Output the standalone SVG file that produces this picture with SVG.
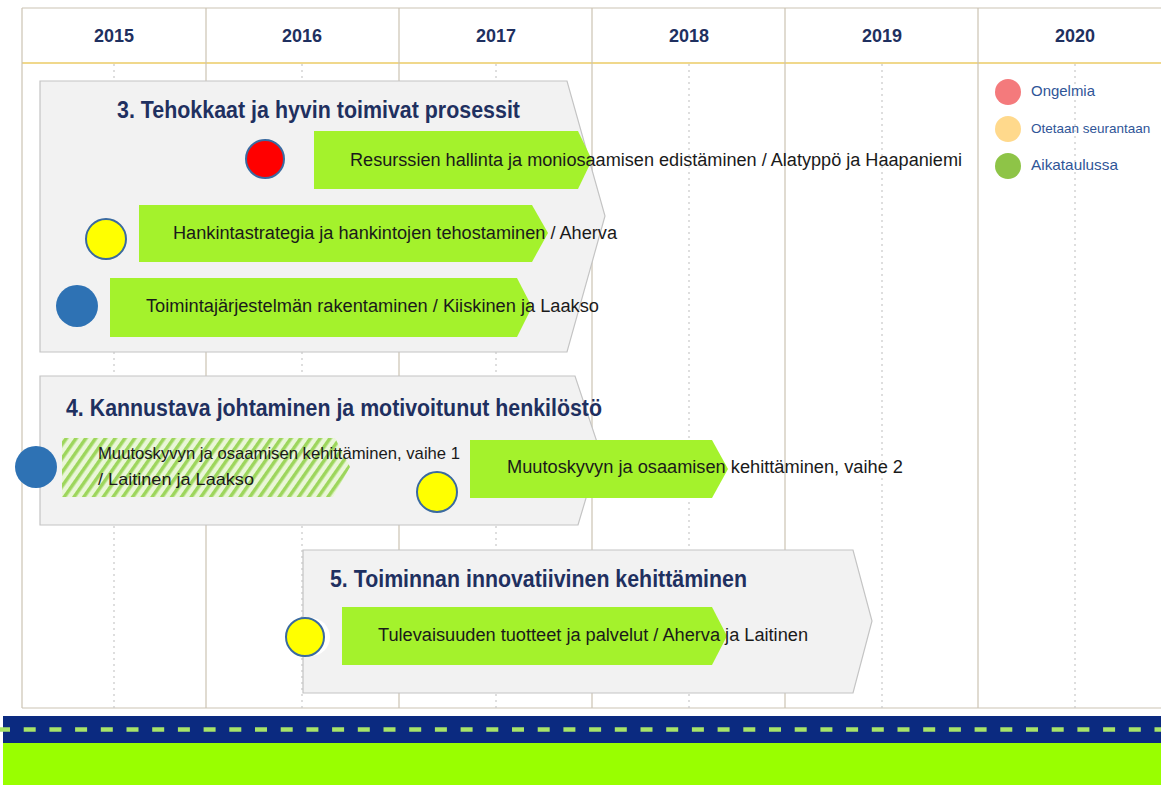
<svg xmlns="http://www.w3.org/2000/svg" width="1161" height="785" viewBox="0 0 1161 785">
<defs>
<style>
.grid{stroke:#cbc3b3;stroke-width:1.2;fill:none}
.dot{stroke:#c9c9c9;stroke-width:1.2;stroke-dasharray:2 4;fill:none}
.year{font-family:"Liberation Sans",Arial,sans-serif;font-weight:bold;font-size:19px;fill:#1f3060;text-anchor:middle}
.panel{fill:#f2f2f2;stroke:#c4c4c4;stroke-width:1.2}
.title{font-family:"Liberation Sans",Arial,sans-serif;font-weight:bold;font-size:23px;fill:#1f3060}
.bar{fill:#a4f22c}
.lbl{font-family:"Liberation Sans",Arial,sans-serif;font-size:18px;fill:#1a1a1a}
.lbl2{font-family:"Liberation Sans",Arial,sans-serif;font-size:17px;fill:#1a1a1a}
.leg{font-family:"Liberation Sans",Arial,sans-serif;font-size:15px;fill:#2f5597}
.st{stroke:#3a6aa0;stroke-width:2}
</style>
<pattern id="hatch" patternUnits="userSpaceOnUse" width="8" height="8" patternTransform="rotate(35)">
<rect width="8" height="8" fill="#eaf6d8"/>
<rect width="3.5" height="8" fill="#9dd65c"/>
</pattern>
</defs>
<rect width="1161" height="785" fill="#ffffff"/>
<g id="grid">
<line class="grid" x1="22" y1="8" x2="1161" y2="8"/>
<line x1="22" y1="63" x2="1161" y2="63" stroke="#f0d88c" stroke-width="2"/>
<line class="grid" x1="22" y1="708" x2="1161" y2="708"/>
<line class="grid" x1="22" y1="8" x2="22" y2="708"/>
<line class="grid" x1="206" y1="8" x2="206" y2="708"/>
<line class="grid" x1="399" y1="8" x2="399" y2="708"/>
<line class="grid" x1="592" y1="8" x2="592" y2="708"/>
<line class="grid" x1="785" y1="8" x2="785" y2="708"/>
<line class="grid" x1="978" y1="8" x2="978" y2="708"/>
<line class="dot" x1="114" y1="64" x2="114" y2="708"/>
<line class="dot" x1="302" y1="64" x2="302" y2="708"/>
<line class="dot" x1="496" y1="64" x2="496" y2="708"/>
<line class="dot" x1="689" y1="64" x2="689" y2="708"/>
<line class="dot" x1="882" y1="64" x2="882" y2="708"/>
<line class="dot" x1="1075" y1="64" x2="1075" y2="708"/>
<text class="year" x="114" y="42" textLength="40" lengthAdjust="spacingAndGlyphs">2015</text>
<text class="year" x="302" y="42" textLength="40" lengthAdjust="spacingAndGlyphs">2016</text>
<text class="year" x="496" y="42" textLength="40" lengthAdjust="spacingAndGlyphs">2017</text>
<text class="year" x="689" y="42" textLength="40" lengthAdjust="spacingAndGlyphs">2018</text>
<text class="year" x="882" y="42" textLength="40" lengthAdjust="spacingAndGlyphs">2019</text>
<text class="year" x="1075" y="42" textLength="40" lengthAdjust="spacingAndGlyphs">2020</text>
</g>
<g id="legend">
<circle cx="1008" cy="92" r="13" fill="#f47a7c"/>
<circle cx="1008" cy="129" r="13" fill="#ffd98c"/>
<circle cx="1008" cy="166" r="13" fill="#8ec447"/>
<text class="leg" x="1031" y="96" textLength="64" lengthAdjust="spacingAndGlyphs">Ongelmia</text>
<text class="leg" x="1031" y="133" style="font-size:13.5px">Otetaan seurantaan</text>
<text class="leg" x="1031" y="170" textLength="87" lengthAdjust="spacingAndGlyphs">Aikataulussa</text>
</g>
<g id="panel3">
<polygon class="panel" points="40,81 567,81 605,216 567,352 40,352"/>
<text class="title" x="117" y="118" textLength="403" lengthAdjust="spacingAndGlyphs">3. Tehokkaat ja hyvin toimivat prosessit</text>
</g>
<g id="task3a">
<polygon class="bar" points="314,131 578,131 592,160 578,189 314,189"/>
<circle class="st" cx="265" cy="159" r="19" fill="#ff0000"/>
<text class="lbl" x="350" y="166" textLength="612" lengthAdjust="spacingAndGlyphs">Resurssien hallinta ja moniosaamisen edistäminen / Alatyppö ja Haapaniemi</text>
</g>
<g id="task3b">
<polygon class="bar" points="139,205 532,205 548,233 532,262 139,262"/>
<circle class="st" cx="106" cy="239" r="20" fill="#ffff00"/>
<text class="lbl" x="173" y="239" textLength="444" lengthAdjust="spacingAndGlyphs">Hankintastrategia ja hankintojen tehostaminen / Aherva</text>
</g>
<g id="task3c">
<polygon class="bar" points="110,278 517,278 532,307 517,337 110,337"/>
<circle cx="77" cy="306" r="21" fill="#2e72b4"/>
<text class="lbl" x="146" y="312" textLength="453" lengthAdjust="spacingAndGlyphs">Toimintajärjestelmän rakentaminen / Kiiskinen ja Laakso</text>
</g>
<g id="panel4">
<polygon class="panel" points="40,376 575,376 600,451 578,525 40,525"/>
<text class="title" x="66" y="416" textLength="536" lengthAdjust="spacingAndGlyphs">4. Kannustava johtaminen ja motivoitunut henkilöstö</text>
</g>
<g id="task4a">
<polygon points="62,438 335,438 350,467 333,497 62,497" fill="url(#hatch)"/>
<circle cx="36" cy="467" r="21" fill="#2e72b4"/>
<text class="lbl2" x="98" y="459" textLength="362" lengthAdjust="spacingAndGlyphs">Muutoskyvyn ja osaamisen kehittäminen, vaihe 1</text>
<text class="lbl2" x="98" y="485" textLength="156" lengthAdjust="spacingAndGlyphs">/ Laitinen ja Laakso</text>
</g>
<g id="task4b">
<polygon class="bar" points="470,440 712,440 728,469 712,498 470,498"/>
<circle class="st" cx="437" cy="492" r="20" fill="#ffff00"/>
<text class="lbl" x="507" y="473" textLength="396" lengthAdjust="spacingAndGlyphs">Muutoskyvyn  ja osaamisen kehittäminen, vaihe 2</text>
</g>
<g id="panel5">
<polygon class="panel" points="303,550 853,550 872,621 853,693 303,693"/>
<text class="title" x="330" y="587" textLength="417" lengthAdjust="spacingAndGlyphs">5. Toiminnan innovatiivinen kehittäminen</text>
</g>
<g id="task5">
<polygon class="bar" points="342,607 712,607 727,636 712,665 342,665"/>
<circle cx="311" cy="637" r="19" fill="#ffffff"/>
<circle class="st" cx="305" cy="637" r="19" fill="#ffff00"/>
<text class="lbl" x="378" y="641" textLength="430" lengthAdjust="spacingAndGlyphs">Tulevaisuuden  tuotteet ja palvelut / Aherva ja Laitinen</text>
</g>
<g id="connectors"></g>
<g id="footer">
<rect x="3" y="716" width="1158" height="27" fill="#0b2a80"/>
<line x1="-2" y1="729.5" x2="1161" y2="729.5" stroke="#a8e468" stroke-width="4.5" stroke-dasharray="12 13.7"/>
<rect x="3" y="743" width="1158" height="42" fill="#99ff00"/>
</g>
</svg>
